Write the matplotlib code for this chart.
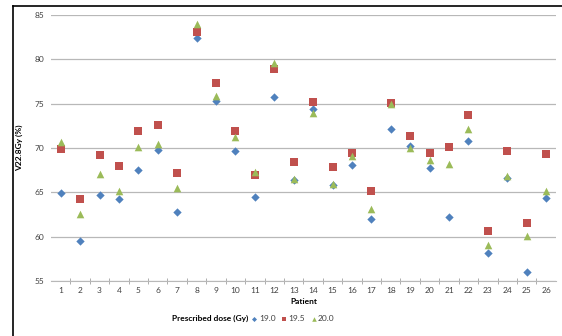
import matplotlib
matplotlib.use('Agg')
import matplotlib.pyplot as plt
from matplotlib.lines import Line2D

plt.rcParams['font.family'] = ['Lato', 'DejaVu Sans']

patients = list(range(1, 27))
dose_190 = [64.9, 59.55, 64.7, 64.3, 67.55, 69.8, 62.8, 82.45, 75.3, 69.7,
            64.5, 75.75, 66.4, 74.4, 65.8, 68.1, 61.95, 72.1, 70.25, 67.7,
            62.2, 70.8, 58.2, 66.6, 56.0, 64.4]
dose_195 = [69.9, 64.25, 69.2, 68.0, 71.9, 72.55, 67.2, 83.05, 77.3, 71.95,
            67.0, 78.95, 68.4, 75.2, 67.9, 69.4, 65.1, 75.1, 71.4, 69.4,
            70.1, 73.75, 60.6, 69.7, 61.5, 69.3]
dose_200 = [70.7, 62.6, 67.1, 65.1, 70.15, 70.45, 65.5, 84.05, 75.9, 71.2,
            67.3, 79.6, 66.5, 74.0, 65.9, 69.1, 63.1, 74.95, 70.05, 68.65,
            68.2, 72.2, 59.1, 66.85, 60.1, 65.1]
series_labels = ['19.0', '19.5', '20.0']
yticks = [55, 60, 65, 70, 75, 80, 85]

fig = plt.figure(figsize=(5.62, 3.36), dpi=100)
ax = fig.add_axes([0.0907, 0.1637, 0.8983, 0.7913])

ax.scatter(patients, dose_190, marker='D', s=18, color='#4f81bd', label=series_labels[0], zorder=3, linewidths=0)
ax.scatter(patients, dose_195, marker='s', s=26, color='#c0504d', label=series_labels[1], zorder=3, linewidths=0)
ax.scatter(patients, dose_200, marker='^', s=30, color='#9bbb59', label=series_labels[2], zorder=3, linewidths=0)

ax.set_xlim(0.5, 26.5)
ax.set_ylim(55, 85)
ax.set_yticks(yticks)
ax.set_xticks(patients)
ax.set_xticks([p + 0.5 for p in patients[:-1]], minor=True)
ax.grid(axis='y', color='#b8b8b8', linewidth=0.9)
ax.set_axisbelow(True)
for s in ['top', 'right', 'left']:
    ax.spines[s].set_visible(False)
ax.spines['bottom'].set_color('#b8b8b8')
ax.tick_params(axis='x', which='major', length=0, labelsize=6, colors='#404040', pad=4)
ax.tick_params(axis='x', which='minor', length=5, direction='inout', color='#a0a0a0')
ax.tick_params(axis='y', length=0, labelsize=6, colors='#404040', pad=5)

ax.set_xlabel('Patient', fontsize=6, fontweight='bold', labelpad=3)
ax.set_ylabel('V22.8Gy (%)', fontsize=6, fontweight='bold', labelpad=8)

fig.text(0.306, 0.053, 'Prescribed dose (Gy)', fontsize=6, fontweight='bold', va='center', ha='left')
fig.legend(loc='center left', bbox_to_anchor=(0.432, 0.053), ncol=3, frameon=False,
           fontsize=6, handletextpad=0.05, columnspacing=0.5, markerscale=0.6,
           handlelength=1.0, labelcolor='#404040')

# frame around the figure (left and top edges visible)
fig.add_artist(Line2D([0.023, 0.023], [0.0, 0.982], color='black', linewidth=1.2))
fig.add_artist(Line2D([0.023, 1.0], [0.982, 0.982], color='black', linewidth=1.2))

fig.savefig('out.png', dpi=100)
